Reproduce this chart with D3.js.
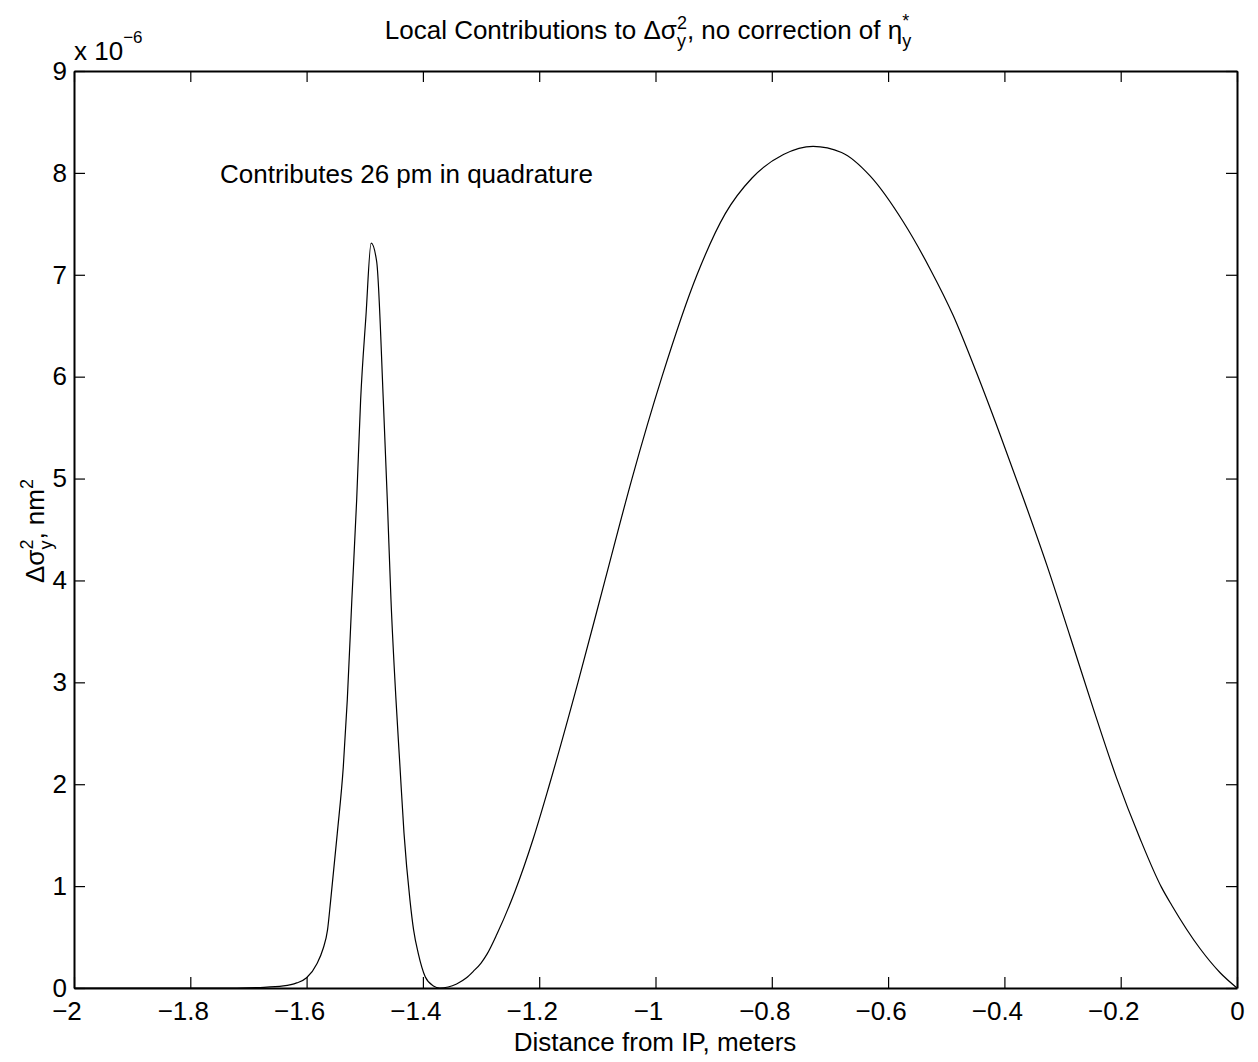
<!DOCTYPE html>
<html>
<head>
<meta charset="utf-8">
<script src="https://cdn.jsdelivr.net/npm/d3@7"></script>
<style>
    body { margin: 0; background: #fff; }
    text { font-family: "Liberation Sans", Arial, sans-serif; fill: #000; }
</style>
</head>
<body>
<svg id="drawing_region"></svg>
<script>
// distance from IP (m) and local contribution (x 1e-6 nm^2)
const xs = [-2.00, -1.80, -1.72, -1.68, -1.64, -1.617, -1.600, -1.582, -1.572, -1.564,
            -1.5586, -1.5472, -1.5369, -1.5300, -1.5222, -1.5139, -1.5071, -1.498, -1.489, -1.4795,
            -1.4681, -1.4612, -1.4549, -1.4463, -1.4394, -1.4325, -1.4222, -1.416, -1.408, -1.396,
            -1.382, -1.371, -1.342, -1.325, -1.313, -1.300, -1.290, -1.2726, -1.2416, -1.210,
            -1.1832, -1.1333, -1.0869, -1.0404, -0.9888, -0.9286, -0.880, -0.834, -0.780, -0.729,
            -0.680, -0.631, -0.574, -0.528, -0.488, -0.448, -0.408, -0.367, -0.327, -0.287,
            -0.247, -0.207, -0.167, -0.130, -0.112, -0.064, -0.029, 0.000];
const ys = [0.00, 0.00, 0.00, 0.005, 0.02, 0.05, 0.10, 0.24, 0.38, 0.57,
            0.86, 1.52, 2.17, 2.83, 3.81, 4.79, 5.77, 6.59, 7.31, 7.13,
            5.77, 4.79, 3.81, 2.83, 2.17, 1.52, 0.86, 0.57, 0.34, 0.11,
            0.02, 0.00, 0.04, 0.10, 0.165, 0.245, 0.33, 0.53, 0.95, 1.47,
            1.98, 3.00, 4.00, 5.00, 6.00, 7.00, 7.60, 7.95, 8.18, 8.26,
            8.20, 7.97, 7.52, 7.06, 6.60, 6.04, 5.44, 4.80, 4.15, 3.45,
            2.74, 2.06, 1.47, 0.99, 0.81, 0.39, 0.15, 0.00];

const xTicks = [-2, -1.8, -1.6, -1.4, -1.2, -1, -0.8, -0.6, -0.4, -0.2, 0];
const yTicks = [0, 1, 2, 3, 4, 5, 6, 7, 8, 9];

const config = {
    width: 1258,
    height: 1062,
    margin: {top: 71, right: 21, bottom: 74, left: 74},
    tick: 11,
    font: 26
};

const data = xs.map((x, i) => ({x: x, y: ys[i]}));

const svg = d3.select('#drawing_region')
    .attr('width', config.width)
    .attr('height', config.height);

const inner_width = config.width - config.margin.left - config.margin.right;
const inner_height = config.height - config.margin.top - config.margin.bottom;

const chart = svg.append('g')
    .attr('transform', `translate(${config.margin.left}, ${config.margin.top})`);

const xscale = d3.scaleLinear().domain([-2, 0]).range([0, inner_width]);
const yscale = d3.scaleLinear().domain([0, 9]).range([inner_height, 0]);

const fmt = d => (d < 0 ? '\u2212' : '') + Math.abs(d);

// axes, ticks pointing inward on all four sides (matlab box)
const xbottom = chart.append('g')
    .attr('transform', `translate(0, ${inner_height})`)
    .call(d3.axisBottom(xscale).tickValues(xTicks).tickFormat(fmt)
        .tickSizeInner(-config.tick).tickSizeOuter(0).tickPadding(14));
const xtop = chart.append('g')
    .call(d3.axisTop(xscale).tickValues(xTicks).tickFormat('')
        .tickSizeInner(-config.tick).tickSizeOuter(0));
const yleft = chart.append('g')
    .call(d3.axisLeft(yscale).tickValues(yTicks).tickFormat(d3.format('d'))
        .tickSizeInner(-config.tick).tickSizeOuter(0).tickPadding(7));
const yright = chart.append('g')
    .attr('transform', `translate(${inner_width}, 0)`)
    .call(d3.axisRight(yscale).tickValues(yTicks).tickFormat('')
        .tickSizeInner(-config.tick).tickSizeOuter(0));

[xbottom, xtop, yleft, yright].forEach(g => {
    g.select('.domain').attr('stroke', '#000').attr('stroke-width', 2);
    g.selectAll('.tick line').attr('stroke', '#000').attr('stroke-width', 1.2);
    g.selectAll('.tick text')
        .style('font-family', '"Liberation Sans", Arial, sans-serif')
        .style('font-size', config.font + 'px')
        .attr('fill', '#000');
});
// matlab hangs the minus sign to the left of the centred number
xbottom.selectAll('.tick text').attr('dx', d => d < 0 ? -7.5 : 0);

const line = d3.line()
    .x(d => xscale(d.x))
    .y(d => yscale(d.y))
    .curve(d3.curveMonotoneX);

chart.append('path')
    .attr('d', line(data))
    .attr('fill', 'none')
    .attr('stroke', '#000')
    .attr('stroke-width', 1.2);

// texts
const small = 18;

const title = svg.append('text')
    .attr('x', 648).attr('y', 39)
    .attr('text-anchor', 'middle')
    .style('font-size', config.font + 'px');
title.append('tspan').text('Local Contributions to \u0394\u03c3');
title.append('tspan').attr('dy', 8).style('font-size', small + 'px').text('y');
title.append('tspan').attr('dx', -9).attr('dy', -18).style('font-size', small + 'px').text('2');
title.append('tspan').attr('dy', 10).text(', no correction of \u03b7');
title.append('tspan').attr('dy', 8).style('font-size', small + 'px').text('y');
title.append('tspan').attr('dx', -9).attr('dy', -20).style('font-size', small + 'px').text('*');

const exp = svg.append('text')
    .attr('x', 74).attr('y', 60)
    .style('font-size', config.font + 'px');
exp.append('tspan').text('x 10');
exp.append('tspan').attr('dy', -17).style('font-size', '17px').text('\u22126');

svg.append('text')
    .attr('x', 220).attr('y', 183)
    .style('font-size', config.font + 'px')
    .text('Contributes 26 pm in quadrature');

svg.append('text')
    .attr('x', 655).attr('y', 1051)
    .attr('text-anchor', 'middle')
    .style('font-size', config.font + 'px')
    .text('Distance from IP, meters');

const ylabel = svg.append('text')
    .attr('transform', 'translate(44, 531) rotate(-90)')
    .attr('text-anchor', 'middle')
    .style('font-size', config.font + 'px');
ylabel.append('tspan').text('\u0394\u03c3');
ylabel.append('tspan').attr('dy', 8).style('font-size', small + 'px').text('y');
ylabel.append('tspan').attr('dx', -9).attr('dy', -19).style('font-size', small + 'px').text('2');
ylabel.append('tspan').attr('dy', 11).text(', nm');
ylabel.append('tspan').attr('dy', -11).style('font-size', small + 'px').text('2');
</script>
</body>
</html>
